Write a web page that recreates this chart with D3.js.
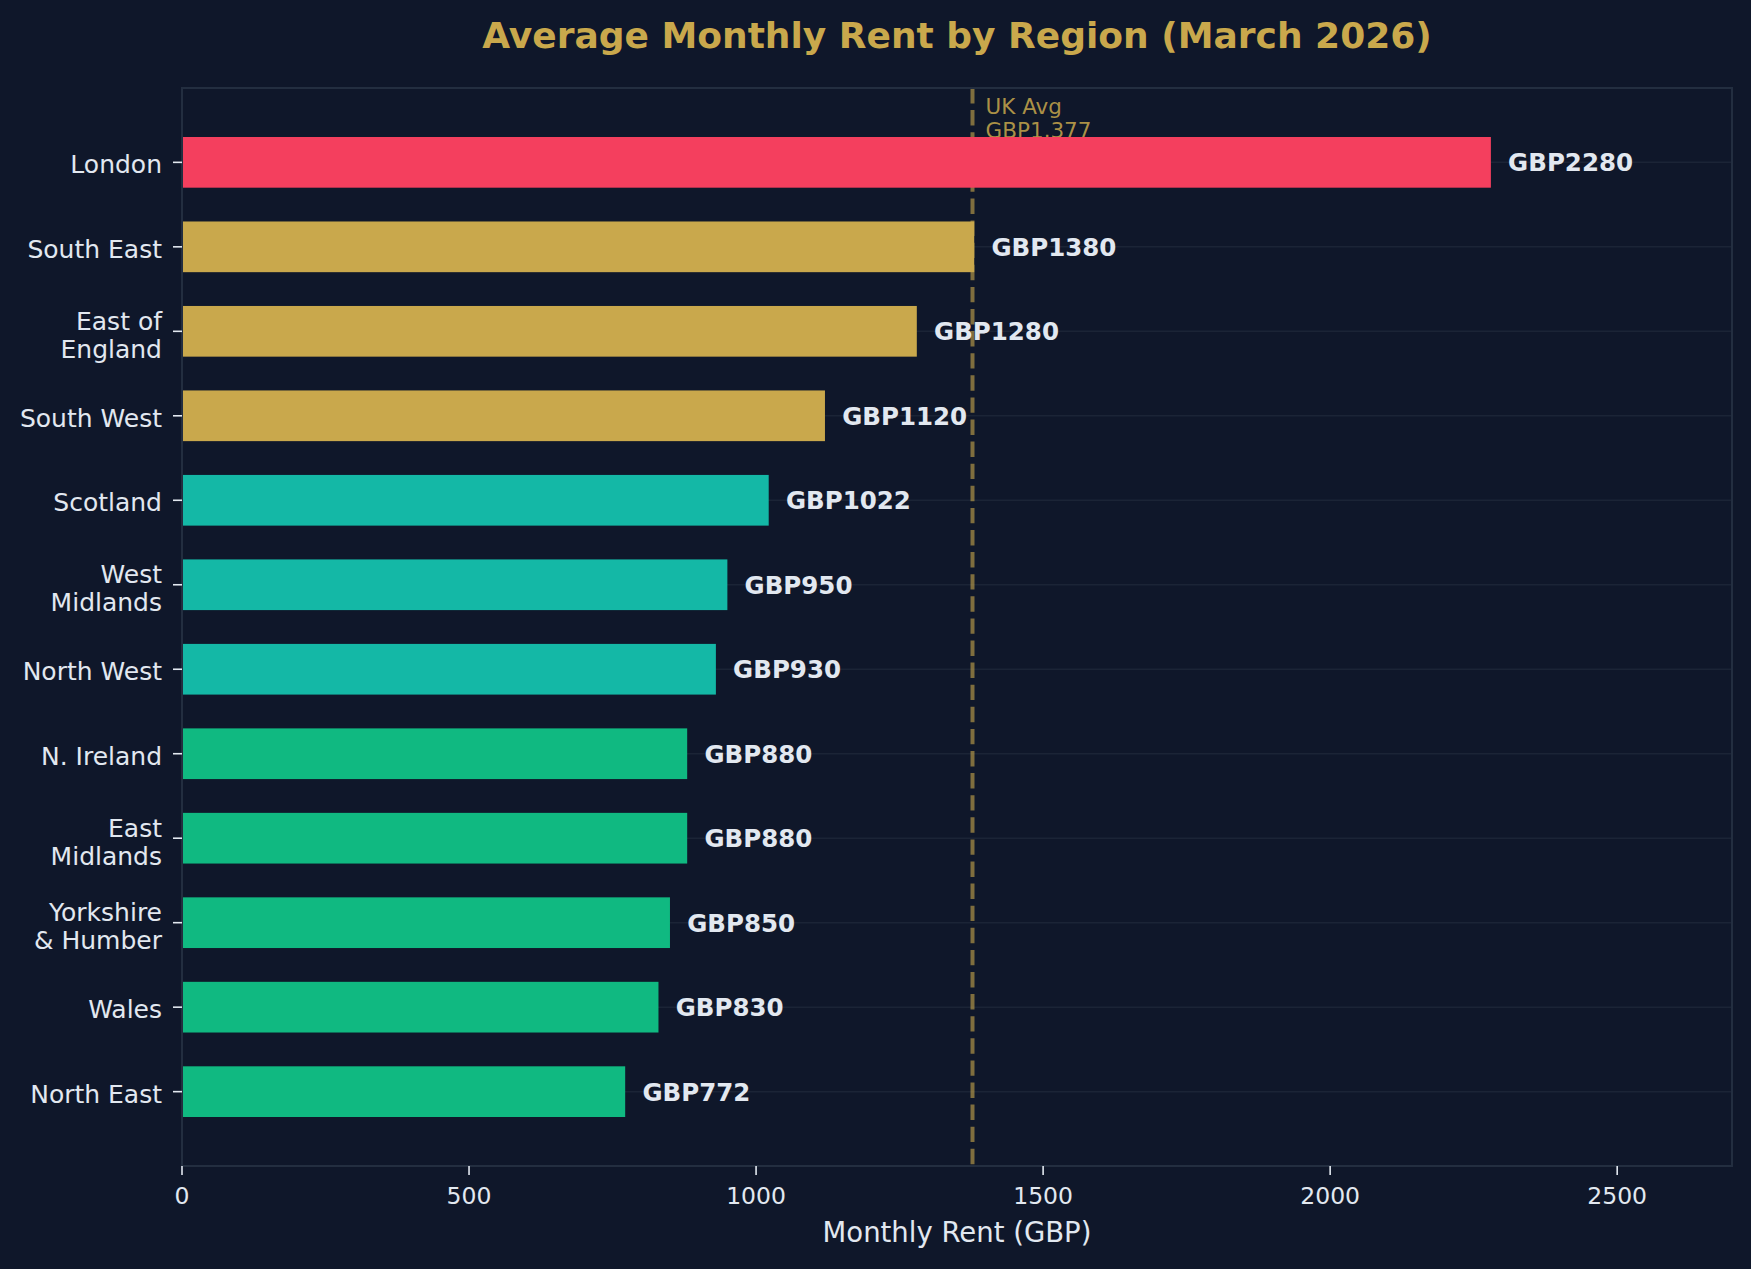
<!DOCTYPE html>
<html lang="en">
  <head>
    <title>rent_by_region</title>
    <script src="https://d3js.org/d3.v7.min.js"></script>
    <style>
      body {margin:0; background-color:#0f172a;}
      svg {display:block; font-family:"DejaVu Sans", sans-serif;}
    </style>
  </head>
  <body>
    <script>
      // chart data
      const regions = ['London', 'South East', 'East of\nEngland', 'South West', 'Scotland',
        'West\nMidlands', 'North West', 'N. Ireland', 'East\nMidlands', 'Yorkshire\n& Humber',
        'Wales', 'North East'];
      const rents = [2280, 1380, 1280, 1120, 1022, 950, 930, 880, 880, 850, 830, 772];
      const tiers = ['top', 'high', 'high', 'high', 'mid', 'mid', 'mid', 'low', 'low', 'low', 'low', 'low'];
      const xTicks = [0, 500, 1000, 1500, 2000, 2500];
      const ukAvg = 1377;

      const width = 1751;
      const height = 1269;
      const margin = {top: 88, left: 182, bottom: 103, right: 19};

      const tierColor = {top: '#f43f5e', high: '#c9a84c', mid: '#14b8a6', low: '#10b981'};

      const x = d3.scaleLinear()
        .domain([0, 2700])
        .range([margin.left, width - margin.right]);

      const y = d3.scaleLinear()
        .domain([-0.88, regions.length - 1 + 0.88])
        .range([margin.top, height - margin.bottom]);

      const barH = y(0.3) - y(-0.3);

      const svg = d3.select('body').append('svg')
        .attr('width', width).attr('height', height);

      svg.append('rect').attr('width', width).attr('height', height).attr('fill', '#0f172a');

      // horizontal grid
      svg.append('g')
        .selectAll('line').data(regions).enter().append('line')
        .attr('x1', x(0)).attr('x2', x(2700))
        .attr('y1', (d, i) => y(i)).attr('y2', (d, i) => y(i))
        .attr('stroke', '#1b2436').attr('stroke-width', 1.5);

      // uk average line + note
      svg.append('line')
        .attr('x1', x(ukAvg)).attr('x2', x(ukAvg))
        .attr('y1', margin.top).attr('y2', height - margin.bottom)
        .attr('stroke', '#c9a84c').attr('stroke-opacity', 0.6)
        .attr('stroke-width', 4).attr('stroke-dasharray', '15.4,6.7');

      const note = svg.append('text')
        .attr('x', x(ukAvg) + 13).attr('y', 114)
        .attr('fill', '#c9a84c').attr('fill-opacity', 0.85)
        .style('font-size', '21.5px');
      note.append('tspan').attr('x', x(ukAvg) + 13).text('UK Avg');
      note.append('tspan').attr('x', x(ukAvg) + 13).attr('dy', 24).text('GBP' + d3.format(',')(ukAvg));

      // bars
      svg.append('g')
        .selectAll('rect').data(rents).enter().append('rect')
        .attr('x', x(0))
        .attr('y', (d, i) => y(i) - barH / 2)
        .attr('width', d => x(d) - x(0))
        .attr('height', barH)
        .attr('fill', (d, i) => tierColor[tiers[i]]);

      // value labels
      svg.append('g')
        .selectAll('text').data(rents).enter().append('text')
        .attr('x', d => x(d + 30))
        .attr('y', (d, i) => y(i) + 9)
        .attr('fill', '#e2e8f0')
        .style('font-size', '24.5px').style('font-weight', 'bold')
        .text(d => 'GBP' + d);

      // frame
      svg.append('rect')
        .attr('x', x(0)).attr('y', margin.top)
        .attr('width', x(2700) - x(0)).attr('height', height - margin.bottom - margin.top)
        .attr('fill', 'none').attr('stroke', '#232e40').attr('stroke-width', 2);

      // y axis ticks and labels
      const yAxis = svg.append('g');
      yAxis.selectAll('line').data(regions).enter().append('line')
        .attr('x1', x(0) - 9).attr('x2', x(0))
        .attr('y1', (d, i) => y(i)).attr('y2', (d, i) => y(i))
        .attr('stroke', '#e2e8f0').attr('stroke-width', 1.6);
      yAxis.selectAll('text').data(regions).enter().append('text')
        .attr('text-anchor', 'end')
        .attr('fill', '#e2e8f0')
        .style('font-size', '25px')
        .each(function(d, i) {
          const lines = d.split('\n');
          const t = d3.select(this);
          lines.forEach((ln, k) => {
            t.append('tspan')
              .attr('x', x(0) - 20)
              .attr('y', y(i) + 11 + (k - (lines.length - 1) / 2) * 28 + (lines.length > 1 ? 1.5 : 0))
              .text(ln);
          });
        });

      // x axis
      const xAxis = svg.append('g');
      xAxis.selectAll('line').data(xTicks).enter().append('line')
        .attr('x1', d => x(d)).attr('x2', d => x(d))
        .attr('y1', height - margin.bottom).attr('y2', height - margin.bottom + 9)
        .attr('stroke', '#e2e8f0').attr('stroke-width', 1.6);
      xAxis.selectAll('text').data(xTicks).enter().append('text')
        .attr('x', d => x(d)).attr('y', 1204)
        .attr('text-anchor', 'middle').attr('fill', '#e2e8f0')
        .style('font-size', '23.5px')
        .text(d => d);

      svg.append('text')
        .attr('x', (x(0) + x(2700)) / 2).attr('y', 1242)
        .attr('text-anchor', 'middle').attr('fill', '#e2e8f0')
        .style('font-size', '27.5px')
        .text('Monthly Rent (GBP)');

      svg.append('text')
        .attr('x', (x(0) + x(2700)) / 2).attr('y', 48)
        .attr('text-anchor', 'middle').attr('fill', '#c9a84c')
        .style('font-size', '36px').style('font-weight', 'bold')
        .text('Average Monthly Rent by Region (March 2026)');
    </script>
  </body>
</html>
